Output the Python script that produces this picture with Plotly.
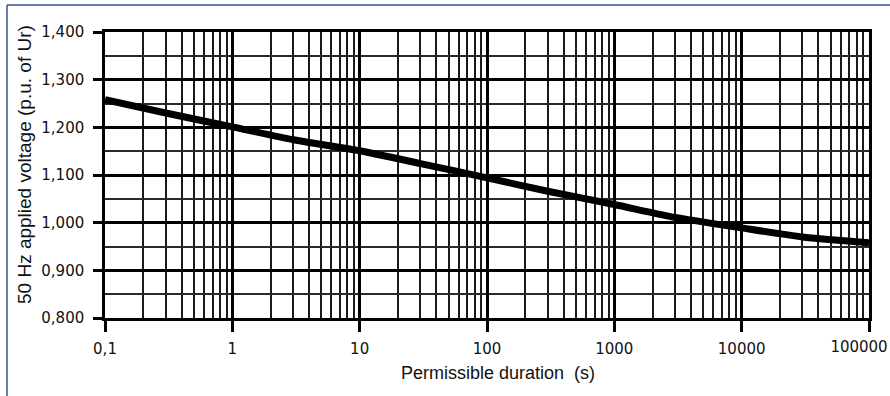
import plotly.graph_objects as go

# ---- data ----
durations_s = [0.1, 0.3, 1, 3, 10, 30, 100, 300, 1000, 3000, 10000, 30000, 100000]
voltage_pu = [1.258, 1.230, 1.201, 1.174, 1.151, 1.124, 1.094, 1.066, 1.038, 1.011, 0.989, 0.970, 0.958]

x_tick_vals = [0.1, 1, 10, 100, 1000, 10000, 100000]
x_tick_text = ["0,1", "1", "10", "100", "1000", "10000", "100000"]
y_tick_vals = [0.8, 0.9, 1.0, 1.1, 1.2, 1.3, 1.4]
y_tick_text = ["0,800", "0,900", "1,000", "1,100", "1,200", "1,300", "1,400"]

x_minor_vals = [k * 10 ** d for d in range(-1, 5) for k in range(2, 10)]

W, H = 890, 396
L, R, T, B = 105, 21, 32, 78
pw, ph = W - L - R, H - T - B


def px_to_paper(px, py):
    return (px - L) / pw, (H - B - py) / ph


fig = go.Figure()
fig.add_trace(go.Scatter(
    x=durations_s, y=voltage_pu, mode="lines",
    line=dict(color="black", width=7, shape="spline", smoothing=0.6),
    showlegend=False, hoverinfo="skip",
))
# invisible helper trace so the overlay axis (carrying the last, shifted label) is drawn
fig.add_trace(go.Scatter(
    x=[x_tick_vals[-1]], y=[y_tick_vals[0]], xaxis="x2", mode="markers",
    marker=dict(opacity=0), showlegend=False, hoverinfo="skip",
))

tick_font = dict(family="DejaVu Sans", size=15, color="#111")

fig.update_layout(
    xaxis=dict(
        type="log", range=[-1, 5], automargin=False,
        tickmode="array", tickvals=x_tick_vals,
        ticktext=x_tick_text[:-1] + [""],
        ticks="outside", ticklen=11, tickwidth=2.5, tickcolor="black",
        ticklabelstandoff=4,
        showgrid=True, gridcolor="black", gridwidth=2.5,
        showline=True, linecolor="black", linewidth=2.5, mirror=True,
        zeroline=False, tickfont=tick_font,
        minor=dict(tickmode="array", tickvals=x_minor_vals, showgrid=True,
                   gridcolor="#1a1a1a", gridwidth=2, ticks=""),
    ),
    xaxis2=dict(
        type="log", range=[-1, 5], overlaying="x", side="bottom", anchor="y",
        automargin=False,
        tickmode="array", tickvals=x_tick_vals[-1:], ticktext=x_tick_text[-1:],
        ticks="outside", ticklen=11, tickwidth=2.5, tickcolor="black",
        ticklabelstandoff=4, ticklabelshift=-10,
        showgrid=False, showline=False, zeroline=False, tickfont=tick_font,
    ),
    yaxis=dict(
        range=[0.8, 1.4], automargin=False,
        tickmode="array", tickvals=y_tick_vals, ticktext=y_tick_text,
        ticks="outside", ticklen=9, tickwidth=2.5, tickcolor="black",
        ticklabelstandoff=6,
        showgrid=True, gridcolor="black", gridwidth=2.5,
        showline=True, linecolor="black", linewidth=2.5, mirror=True,
        zeroline=False, tickfont=tick_font,
        minor=dict(dtick=0.05, showgrid=True, gridcolor="#2a2a2a", gridwidth=1.6, ticks=""),
    ),
)

# blue frame: only the left and top edges are visible in the reference
fx0, fy0 = px_to_paper(7, 5)
fx1, fy1 = px_to_paper(890, 396)
frame = dict(color="#34549a", width=1.5)
fig.add_shape(type="line", xref="paper", yref="paper", x0=fx0, y0=fy0, x1=fx1, y1=fy0, line=frame)
fig.add_shape(type="line", xref="paper", yref="paper", x0=fx0, y0=fy0, x1=fx0, y1=fy1, line=frame)

ax, ay = px_to_paper(498, 373)
fig.add_annotation(text="Permissible duration\u00a0 (s)", xref="paper", yref="paper",
                   x=ax, y=ay, xanchor="center", yanchor="middle", showarrow=False,
                   font=dict(family="Liberation Sans", size=18, color="#111"))
bx, by = px_to_paper(24, 165)
fig.add_annotation(text="50 Hz applied voltage (p.u. of Ur)", xref="paper", yref="paper",
                   x=bx, y=by, xanchor="center", yanchor="middle", showarrow=False,
                   textangle=-90,
                   font=dict(family="Liberation Sans", size=19, color="#111"))

fig.update_layout(
    width=W, height=H,
    margin=dict(l=L, r=R, t=T, b=B, autoexpand=False),
    paper_bgcolor="white", plot_bgcolor="white",
)

fig.write_html(
    "out.html",
    config={"displayModeBar": False},
    post_script="document.body.style.margin='0';document.body.style.overflow='hidden';",
)
